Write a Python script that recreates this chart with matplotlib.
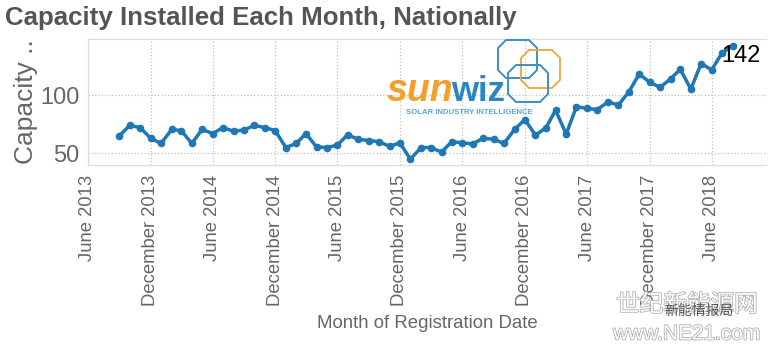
import numpy as np
import pandas as pd
import matplotlib
matplotlib.use("Agg")
import matplotlib.pyplot as plt
import matplotlib.patheffects as pe
from matplotlib.patches import Polygon

# Monthly capacity installed nationally
months = pd.date_range("2013-09-01", periods=60, freq="MS")
capacity = [
    65, 74, 72, 63,
    58.5, 70.5, 69.5, 58.5, 70.5, 67, 72, 69, 70, 74, 72, 69.5,
    55, 58.5, 67, 55.5, 55, 57, 66, 62, 61, 60, 56, 59,
    45, 55, 55, 51, 60, 59, 58, 63, 62, 58.5, 70.5, 79,
    65.5, 72, 87, 66.5, 90, 88.5, 87.5, 94, 91.5, 102.5, 118, 111,
    106.5, 114, 122, 105, 127, 121.5, 136, 142,
]
tick_dates = pd.to_datetime([
    "2013-06-01", "2013-12-01", "2014-06-01", "2014-12-01", "2015-06-01",
    "2015-12-01", "2016-06-01", "2016-12-01", "2017-06-01", "2017-12-01",
    "2018-06-01",
])
tick_labels = [d.strftime("%B %Y") for d in tick_dates]
y_ticks = [50, 100]

title = "Capacity Installed Each Month, Nationally"
y_label = "Capacity .."
x_label = "Month of Registration Date"

FONT = "Liberation Sans"
GRAY = "#666666"
BLUE = "#1f77b4"

W, H = 768, 346
fig = plt.figure(figsize=(W / 100, H / 100), dpi=100)
ax = fig.add_axes([88 / W, 1 - 165 / H, 678 / W, 126 / H])

ax.plot(months, capacity, color=BLUE, lw=2.5, marker="o", ms=4.5, zorder=3)

# value label on the latest month
last_x, last_y = months[-1], capacity[-1]
ax.annotate(f"{last_y:.0f}", (last_x, last_y), xytext=(8, -10),
            textcoords="offset pixels", ha="center", va="center",
            fontsize=17, family=FONT, color="black", zorder=4)

ax.set_xlim(pd.Timestamp("2013-06-01"), pd.Timestamp("2018-11-07"))
ax.set_ylim(40, 148)
ax.set_xticks(tick_dates)
ax.set_xticklabels(tick_labels, rotation=90, family=FONT, fontsize=13.3, color=GRAY)
ax.set_yticks(y_ticks)
ax.set_yticklabels([str(v) for v in y_ticks], family=FONT, fontsize=17, color=GRAY)
ax.tick_params(axis="x", length=0, pad=7)
ax.tick_params(axis="y", length=0, pad=6)
ax.grid(True, ls=":", color="#c0c0c0", lw=0.9)
for s in ["top", "left", "bottom"]:
    ax.spines[s].set_color("#dddddd")
    ax.spines[s].set_linewidth(0.9)
ax.spines["right"].set_visible(False)

ax.set_ylabel(y_label, family=FONT, fontsize=19, color=GRAY, labelpad=2)
fig.text(427 / W, 1 - 323 / H, x_label, ha="center", va="center",
         family=FONT, fontsize=13.4, color=GRAY)
fig.text(5 / W, 1 - 18 / H, title, ha="left", va="center",
         family=FONT, fontsize=18.6, fontweight="bold", color="#555555")

# overlay in pixel coordinates for the logo and watermark
ov = fig.add_axes([0, 0, 1, 1], facecolor="none")
ov.set_xlim(0, W)
ov.set_ylim(H, 0)
ov.axis("off")


def octagon(x0, y0, x1, y1, c):
    return [(x0 + c, y0), (x1 - c, y0), (x1, y0 + c), (x1, y1 - c),
            (x1 - c, y1), (x0 + c, y1), (x0, y1 - c), (x0, y0 + c)]


ov.add_patch(Polygon(octagon(498, 40, 537, 78, 8), closed=True, fill=False,
                     ec="#3a8fc8", lw=1.4))
ov.add_patch(Polygon(octagon(521, 50, 560, 88, 8), closed=True, fill=False,
                     ec="#f2a94a", lw=1.4))
ov.add_patch(Polygon(octagon(508, 65, 548, 102, 8), closed=True, fill=False,
                     ec="#3a8fc8", lw=1.4))
ov.text(453, 101, "sun", ha="right", va="baseline", family=FONT,
        fontsize=27, fontweight="bold", fontstyle="italic", color="#f4a028")
ov.text(451, 101, "wiz", ha="left", va="baseline", family=FONT,
        fontsize=25, fontweight="bold", color="#2a87c6")
ov.text(469, 113, "SOLAR INDUSTRY INTELLIGENCE", ha="center", va="center",
        family=FONT, fontsize=5.6, fontweight="bold", color="#5aa5dc")

# watermark
cjk = ["Noto Sans CJK SC", "DejaVu Sans"]
outline = [pe.withStroke(linewidth=1.2, foreground="#b0b0b0")]
ov.text(687, 305, "世纪新能源网", ha="center", va="center",
        family=cjk, fontsize=17, color="white", path_effects=outline)
ov.text(699, 311, "新能情报局", ha="center", va="center",
        family=cjk, fontsize=10, color="#333333", alpha=0.8)
ov.text(687, 334, "www.NE21.com", ha="center", va="center",
        family=FONT, fontsize=15, color="white", path_effects=outline)

fig.savefig("out.png", dpi=100)
